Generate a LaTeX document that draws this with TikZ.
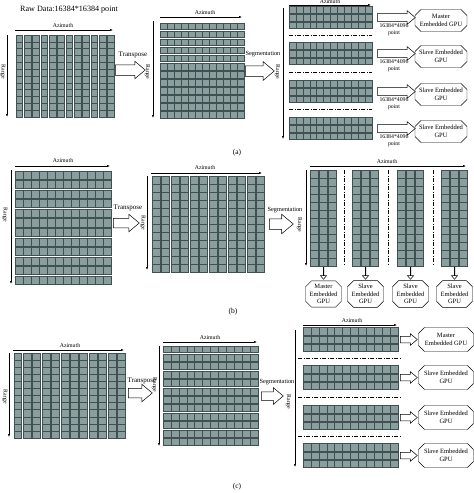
\documentclass[tikz,border=0pt]{standalone}
\usepackage{fontspec}
\setmainfont{Liberation Serif}
\usepackage{tikz}
\usetikzlibrary{arrows.meta,shapes.arrows,shapes.misc}

\definecolor{cellfill}{RGB}{138,158,158}
\definecolor{celledge}{RGB}{62,80,82}

% #1,#2 top left  #3,#4 bottom right  #5 rows  #6 cols  #7 gap x  #8 gap y
\newcommand{\cellgrid}[8]{%
  \foreach \ri in {1,...,#5}{
    \foreach \ci in {1,...,#6}{
      \pgfmathsetmacro{\xa}{#1+(\ci-1)*(#3-#1)/#6+#7}
      \pgfmathsetmacro{\xb}{#1+\ci*(#3-#1)/#6-#7}
      \pgfmathsetmacro{\ya}{#2+(\ri-1)*(#4-#2)/#5+#8}
      \pgfmathsetmacro{\yb}{#2+\ri*(#4-#2)/#5-#8}
      \draw[cell] (\xa,\ya) rectangle (\xb,\yb);
    }
  }
}

\tikzset{
  cell/.style={fill=cellfill,draw=celledge,line width=0.35pt},
  axis/.style={line width=0.5pt,-{Latex[length=3pt,width=2.2pt]}},
  segline/.style={line width=0.6pt,dash pattern=on 4pt off 1.5pt on 1pt off 1.5pt},
  % length, half shaft, head extend
  blockarrow/.style n args={3}{single arrow,draw,fill=white,line width=0.5pt,
    inner xsep=0pt,inner ysep=#2,anchor=tail,single arrow tip angle=80,
    minimum height=#1,minimum width=0pt,single arrow head extend=#3},
  gpu/.style={chamfered rectangle,draw,line width=0.45pt,align=center,inner sep=0.5pt,
    chamfered rectangle xsep=3pt,chamfered rectangle ysep=3pt,
    font=\fontsize{6.5}{7.5}\selectfont},
  lbl/.style={font=\fontsize{5.8}{6.5}\selectfont,inner sep=0.5pt},
  oplbl/.style={font=\fontsize{7}{8}\selectfont,inner sep=0.5pt},
  seglbl/.style={font=\fontsize{6.3}{7}\selectfont,inner sep=0.5pt},
  caplbl/.style={font=\fontsize{7.5}{8}\selectfont,inner sep=0.5pt}
}

\begin{document}
\begin{tikzpicture}[x=1pt,y=-1pt]
	\useasboundingbox (0,0) rectangle (474,493);

	%%% (a)
	\path (20,10) node(raw_title) [right,inner sep=0pt,font=\fontsize{8.1}{9}\selectfont] {Raw Data:16384*16384 point};
	\cellgrid{15}{35}{115}{117}{12}{12}{0.75}{0}
	\path (15,30) coordinate (az_a1_l);
	\path (113,30) coordinate (az_a1_r);
	\path (7,35) coordinate (rg_a1_t);
	\path (7,117) coordinate (rg_a1_b);
	\draw[axis] (az_a1_l) -- (az_a1_r);
	\draw[axis] (rg_a1_t) -- (rg_a1_b);
	\path (63,26) node(azimuth_a1) [lbl] {Azimuth};
	\path (3,72) node(range_a1) [lbl,rotate=-90] {Range};

	\path (133,55) node(transpose_a) [oplbl] {Transpose};
	\path (115,70) node(arr_transpose_a) [blockarrow={30}{5}{3.5}] {};

	\cellgrid{160}{22}{244}{119}{12}{12}{0}{0.75}
	\path (160,17) coordinate (az_a2_l);
	\path (242,17) coordinate (az_a2_r);
	\path (153,21) coordinate (rg_a2_t);
	\path (153,118) coordinate (rg_a2_b);
	\draw[axis] (az_a2_l) -- (az_a2_r);
	\draw[axis] (rg_a2_t) -- (rg_a2_b);
	\path (205,13) node(azimuth_a2) [lbl] {Azimuth};
	\path (147.5,72) node(range_a2) [lbl,rotate=-90] {Range};

	\path (263,54) node(segmentation_a) [seglbl] {Segmentation};
	\path (245,71) node(arr_segmentation_a) [blockarrow={29}{5}{4}] {};

	\path (289,5) coordinate (az_a3_l);
	\path (371,5) coordinate (az_a3_r);
	\path (283,8) coordinate (rg_a3_t);
	\path (283,139) coordinate (rg_a3_b);
	\draw[axis] (az_a3_l) -- (az_a3_r);
	\draw[axis] (rg_a3_t) -- (rg_a3_b);
	\path (330,1.5) node(azimuth_a3) [lbl] {Azimuth};
	\path (277.5,72) node(range_a3) [lbl,rotate=-90] {Range};
	\foreach \top/\mid/\who [count=\k] in {6/17.5/Master\\Embedded GPU,42/53.5/Slave Embedded\\GPU,80/91.5/Slave Embedded\\GPU,117/128.5/Slave Embedded\\GPU}{
		\pgfmathsetmacro{\bot}{\top+23}
		\cellgrid{289}{\top}{372}{\bot}{3}{12}{0}{0.6}
		\path (377,\mid) node(arr_gpu_a\k) [blockarrow={38}{3.7}{2.8}] {};
		\path (394,\mid+8.5) node(size_a\k) [lbl] {16384*4096};
		\path (394,\mid+15.5) node(point_a\k) [lbl] {point};
		\path (441,\mid+3) node(gpu_a\k) [gpu,minimum width=52,minimum height=22] {\who};
	}
	\foreach \y in {35.5,72.5,109.5}
		\draw[segline] (289,\y) -- (372,\y);
	\path (237,153) node(cap_a) [caplbl] {(a)};

	%%% (b)
	\cellgrid{15}{170}{111}{285}{12}{12}{0}{0.75}
	\path (15,166) coordinate (az_b1_l);
	\path (110,166) coordinate (az_b1_r);
	\path (11,170) coordinate (rg_b1_t);
	\path (11,284) coordinate (rg_b1_b);
	\draw[axis] (az_b1_l) -- (az_b1_r);
	\draw[axis] (rg_b1_t) -- (rg_b1_b);
	\path (63,161) node(azimuth_b1) [lbl] {Azimuth};
	\path (5,215) node(range_b1) [lbl,rotate=-90] {Range};

	\path (128,208) node(transpose_b) [oplbl] {Transpose};
	\path (113,223) node(arr_transpose_b) [blockarrow={26}{4.5}{4}] {};

	\cellgrid{151}{176}{265}{272}{12}{12}{0.75}{0}
	\path (151,173) coordinate (az_b2_l);
	\path (262,173) coordinate (az_b2_r);
	\path (147,176) coordinate (rg_b2_t);
	\path (147,270) coordinate (rg_b2_b);
	\draw[axis] (az_b2_l) -- (az_b2_r);
	\draw[axis] (rg_b2_t) -- (rg_b2_b);
	\path (205,168) node(azimuth_b2) [lbl] {Azimuth};
	\path (143,223) node(range_b2) [lbl,rotate=-90] {Range};

	\path (285,210) node(segmentation_b) [seglbl] {Segmentation};
	\path (269,224) node(arr_segmentation_b) [blockarrow={24}{5}{4.5}] {};

	\path (310,166) coordinate (az_b3_l);
	\path (466,166) coordinate (az_b3_r);
	\path (306,170) coordinate (rg_b3_t);
	\path (306,266) coordinate (rg_b3_b);
	\draw[axis] (az_b3_l) -- (az_b3_r);
	\draw[axis] (rg_b3_t) -- (rg_b3_b);
	\path (387,162) node(azimuth_b3) [lbl] {Azimuth};
	\path (299.5,225) node(range_b3) [lbl,rotate=-90] {Range};
	\foreach \lft/\who [count=\k] in {310/Master,352/Slave,397/Slave,441/Slave}{
		\pgfmathsetmacro{\rgt}{\lft+27}
		\pgfmathsetmacro{\mid}{\lft+13.5}
		\cellgrid{\lft}{170}{\rgt}{266}{12}{3}{0.6}{0}
		\path (\mid,267) node(arr_gpu_b\k) [blockarrow={12}{3.3}{2.7},shape border rotate=270] {};
		\path (\mid,294) node(gpu_b\k) [gpu,minimum width=36,minimum height=26] {\who\\Embedded\\GPU};
	}
	\foreach \x in {344,388,433}
		\draw[segline] (\x,170) -- (\x,266);
	\path (233,312) node(cap_b) [caplbl] {(b)};

	%%% (c)
	\cellgrid{13}{353}{126}{438}{12}{12}{0.75}{0}
	\path (13,350) coordinate (az_c1_l);
	\path (124,350) coordinate (az_c1_r);
	\path (9,353) coordinate (rg_c1_t);
	\path (9,437) coordinate (rg_c1_b);
	\draw[axis] (az_c1_l) -- (az_c1_r);
	\draw[axis] (rg_c1_t) -- (rg_c1_b);
	\path (70,346) node(azimuth_c1) [lbl] {Azimuth};
	\path (5,397) node(range_c1) [lbl,rotate=-90] {Range};

	\path (142,381) node(transpose_c) [oplbl] {Transpose};
	\path (128,393) node(arr_transpose_c) [blockarrow={24}{4.5}{4}] {};

	\cellgrid{163}{345}{258}{446}{12}{12}{0}{0.75}
	\path (163,342) coordinate (az_c2_l);
	\path (257,342) coordinate (az_c2_r);
	\path (159,346) coordinate (rg_c2_t);
	\path (159,446) coordinate (rg_c2_b);
	\draw[axis] (az_c2_l) -- (az_c2_r);
	\draw[axis] (rg_c2_t) -- (rg_c2_b);
	\path (210,338) node(azimuth_c2) [lbl] {Azimuth};
	\path (154.5,385) node(range_c2) [lbl,rotate=-90] {Range};

	\path (277,382) node(segmentation_c) [seglbl] {Segmentation};
	\path (261,396) node(arr_segmentation_c) [blockarrow={22}{4}{4}] {};

	\path (303,325) coordinate (az_c3_l);
	\path (397,325) coordinate (az_c3_r);
	\path (295,330) coordinate (rg_c3_t);
	\path (295,467) coordinate (rg_c3_b);
	\draw[axis] (az_c3_l) -- (az_c3_r);
	\draw[axis] (rg_c3_t) -- (rg_c3_b);
	\path (352,321) node(azimuth_c3) [lbl] {Azimuth};
	\path (288.5,402) node(range_c3) [lbl,rotate=-90] {Range};
	\foreach \top/\who [count=\k] in {327/Master\\Embedded GPU,365/Slave Embedded\\GPU,405/Slave Embedded\\GPU,443/Slave Embedded\\GPU}{
		\pgfmathsetmacro{\bot}{\top+25}
		\pgfmathsetmacro{\mid}{\top+12.5}
		\cellgrid{303}{\top}{398}{\bot}{3}{12}{0}{0.6}
		\path (400,\mid) node(arr_gpu_c\k) [blockarrow={17}{3}{2.5}] {};
		\path (446,\mid) node(gpu_c\k) [gpu,minimum width=55,minimum height=24] {\who};
	}
	\foreach \y in {358.5,397.5,436.5}
		\draw[segline] (298,\y) -- (400,\y);
	\path (237,487) node(cap_c) [caplbl] {(c)};
\end{tikzpicture}
\end{document}
